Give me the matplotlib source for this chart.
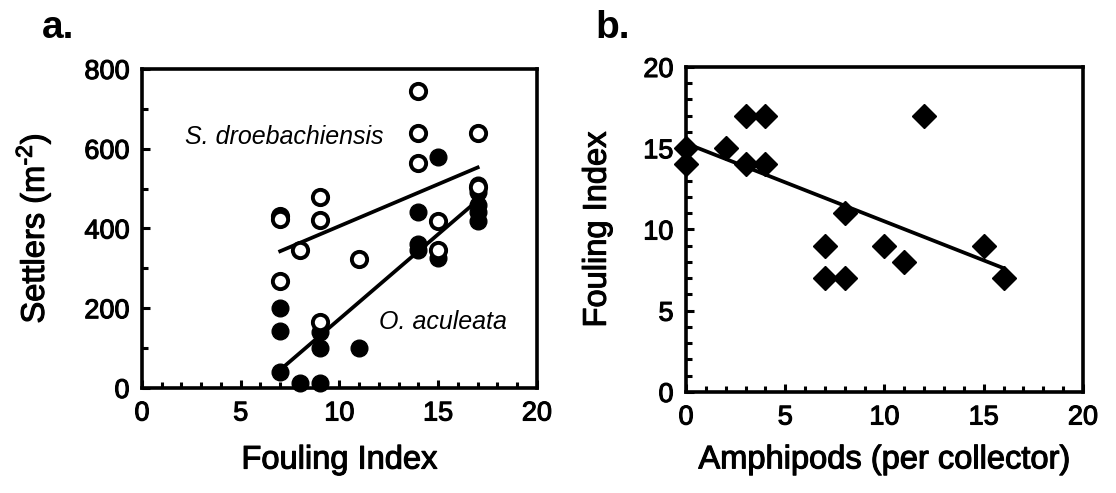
import numpy as np
import matplotlib
matplotlib.use('Agg')
import matplotlib.pyplot as plt
import matplotlib.patheffects as pe
from matplotlib.ticker import MultipleLocator

plt.rcParams['font.family'] = ['Liberation Sans', 'DejaVu Sans']
plt.rcParams['mathtext.fontset'] = 'custom'
plt.rcParams['mathtext.rm'] = 'Liberation Sans'
plt.rcParams['mathtext.it'] = 'Liberation Sans:italic'

# panel a data - fouling index vs settlers
strong_x = [7, 7, 7, 8, 9, 9, 9, 11, 14, 14, 14, 15, 15, 17, 17]
strong_y = [432, 425, 268, 345, 480, 422, 165, 323, 745, 640, 565, 420, 345, 640, 505]
ophi_x = [7, 7, 7, 8, 9, 9, 9, 11, 14, 14, 14, 15, 15, 17, 17, 17, 17, 17]
ophi_y = [200, 143, 40, 12, 12, 100, 140, 100, 442, 360, 345, 580, 325, 510, 492, 458, 442, 420]
# regression lines (intercept, slope)
strong_fit = [196, 21.0]
ophi_fit = [-252, 42.5]
fit_range_a = [7, 17]

# panel b data - amphipods vs fouling index
amph_x = [0, 0, 2, 3, 4, 3, 4, 12, 8, 7, 7, 8, 10, 11, 15, 16]
foul_y = [15, 14, 15, 17, 17, 14, 14, 17, 11, 9, 7, 7, 9, 8, 9, 7]
amph_fit = [15.3, -0.48]
fit_range_b = [0, 16]

heavy = [pe.withStroke(linewidth=0.8, foreground='k')]

fig = plt.figure(figsize=(11.16, 4.93), dpi=100)
ax1 = fig.add_axes([0.1272, 0.2130, 0.3539, 0.6471])
ax2 = fig.add_axes([0.6147, 0.2049, 0.3557, 0.6592])

def style_axes(ax):
    for s in ax.spines.values():
        s.set_linewidth(2.6)
    ax.tick_params(which='both', direction='in', top=False, right=False,
                   labelsize=19.5, pad=9, width=2.2)
    ax.tick_params(which='major', length=6)
    ax.tick_params(which='minor', length=4)
    for lab in ax.get_xticklabels() + ax.get_yticklabels():
        lab.set_path_effects(heavy)

# ---- panel a
xs = np.array(fit_range_a)
ax1.plot(xs, strong_fit[0] + strong_fit[1]*xs, 'k-', lw=2.7)
ax1.plot(xs, ophi_fit[0] + ophi_fit[1]*xs, 'k-', lw=2.7)
ax1.plot(ophi_x, ophi_y, 'o', color='k', ms=12, clip_on=False, zorder=3)
ax1.plot(strong_x, strong_y, 'o', mfc='white', mec='k', mew=2.8, ms=11, clip_on=False, zorder=4)
ax1.set_xlim(0, 20)
ax1.set_ylim(0, 800)
ax1.xaxis.set_major_locator(MultipleLocator(5))
ax1.xaxis.set_minor_locator(MultipleLocator(1))
ax1.yaxis.set_major_locator(MultipleLocator(200))
ax1.yaxis.set_minor_locator(MultipleLocator(100))
style_axes(ax1)
ax1.set_xlabel('Fouling Index', fontsize=23.5, labelpad=13, path_effects=heavy)
ax1.set_ylabel('Settlers (m$^{\\text{-}2}$)', fontsize=23.5, labelpad=22, path_effects=heavy)
ax1.text(2.2, 630, 'S. droebachiensis', style='italic', fontsize=18, ha='left', va='center')
ax1.text(12.0, 166, 'O. aculeata', style='italic', fontsize=18, ha='left', va='center')

# ---- panel b
xs = np.array(fit_range_b)
ax2.plot(xs, amph_fit[0] + amph_fit[1]*xs, 'k-', lw=2.7)
ax2.plot(amph_x, foul_y, 'D', color='k', ms=12, clip_on=False, zorder=3)
ax2.set_xlim(0, 20)
ax2.set_ylim(0, 20)
ax2.xaxis.set_major_locator(MultipleLocator(5))
ax2.xaxis.set_minor_locator(MultipleLocator(1))
ax2.yaxis.set_major_locator(MultipleLocator(5))
ax2.yaxis.set_minor_locator(MultipleLocator(1))
style_axes(ax2)
ax2.set_xlabel('Amphipods (per collector)', fontsize=23.5, labelpad=10, path_effects=heavy)
ax2.set_ylabel('Fouling Index', fontsize=23.5, labelpad=22, path_effects=heavy)

fig.text(42/1116, 1-38/493, 'a.', fontsize=28, fontweight='bold', ha='left', va='baseline')
fig.text(595/1116, 1-38/493, 'b.', fontsize=28, fontweight='bold', ha='left', va='baseline')

fig.savefig('out.png', dpi=100)
